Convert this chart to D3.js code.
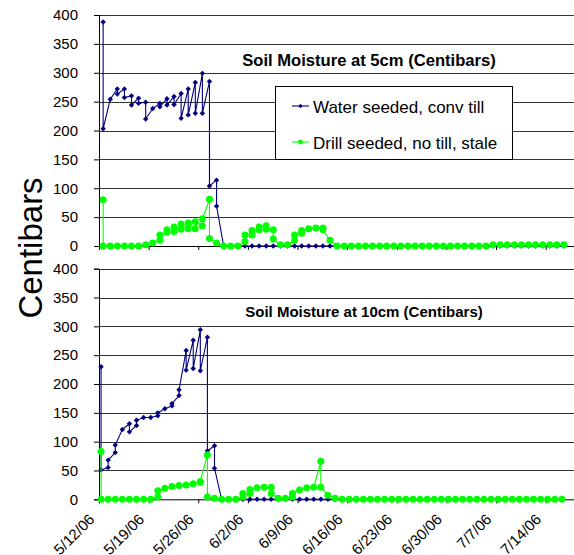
<!DOCTYPE html>
<html><head><meta charset="utf-8">
<script src="https://cdn.jsdelivr.net/npm/d3@7"></script>
<style>body{margin:0;background:#fff}svg{display:block}</style>
</head><body>
<svg id="c" width="574" height="555"></svg>
<script>
// ---------------- data ----------------
const startDay = "2006-05-12";
const endDay = "2006-07-18";
const tickLabels = ["5/12/06","5/19/06","5/26/06","6/2/06","6/9/06","6/16/06","6/23/06","6/30/06","7/7/06","7/14/06"];
const yTicks = [0,50,100,150,200,250,300,350,400];
const seriesNames = ["Water seeded, conv till","Drill seeded, no till, stale"];
const panelTitles = ["Soil Moisture at 5cm (Centibars)","Soil Moisture at 10cm (Centibars)"];
const yLabel = "Centibars";
// reading hour of day for each panel
const readingHour = [14, 7];

// one entry per day from 5/12/06; an array = several readings that day
const water5 = [[388,203],254,[272,263],[272,257],[260,244],[256,247],[249,220],238,[247,241],[255,244],
  [259,245],[264,221],[272,227],[283,230],[299,230],[285,104],[114,69],0,0,0,
  0,0,0,0,0,0,0,0,0,0, 0,0,0,0,0,0,0,0,0,0, 0,0,0,0,0,0,0,0,0,0, 0,0,0,0,0,0,0,0,0,0, 0,0,0,0,0,0];
const drill5 = [[80,0],0,0,0,0,0,2,5,[10,19],[24,28],
  [25,33],[29,38],[30,40],[30,42],[35,47],[81,13],5,0,0,0,
  [8,19],[19,27],[28,33],[35,29],[28,12],2,2,[10,19],[22,27],30,
  31,[31,28],10,0,0,0,0,0,0,0, 0,0,0,0,0,0,0,0,0,0, 0,0,0,0,0,2,2,2,2,2, 2,2,2,2,2,2];
const water10 = [[230,51],[55,68],[81,94],121,[131,117],[128,137],142,142,[145,150],157,
  [162,166],[180,190],[258,224],[276,227],[294,223],[281,84],[93,54],0,0,0,
  0,0,0,0,0,0,0,0,0,0, 0,0,0,0,0,0,0,0,0,0, 0,0,0,0,0,0,0,0,0,0, 0,0,0,0,0,0,0,0,0,0, 0,0,0,0,0,0];
const drill10 = [[83,0],0,0,0,0,0,0,0,[4,15],19,
  22,24,25,27,[29,31],[77,4],2,0,0,0,
  [4,10],[10,17],20,21,[21,10],2,2,[4,10],16,20,
  21,[66,21],7,2,0,0,0,0,0,0, 0,0,0,0,0,0,0,0,0,0, 0,0,0,0,0,0,0,0,0,0, 0,0,0,0,0,0];

// ---------------- drawing ----------------
const svg = d3.select("#c");
const FONT = "'Liberation Sans', Arial, Helvetica, sans-serif";
const parse = d3.timeParse("%Y-%m-%d");
const parseTick = d3.timeParse("%m/%d/%y");
const x = d3.scaleTime().domain([parse(startDay), parse(endDay)]).range([99, 574]);
const colors = ["#000080", "#00ff00"];

function flatten(arr, hour) {
  const out = [];
  arr.forEach((e, i) => {
    const day = d3.timeDay.offset(parse(startDay), i);
    const t = d3.timeHour.offset(day, hour);
    [].concat(e).forEach(v => out.push({t, v}));
  });
  return out;
}

const panels = [
  {series: [water5, drill5], top: 15, bottom: 246, title: panelTitles[0], titleY: 66, titleSize: 16.6, titleX: 369, labels: false, legend: true},
  {series: [water10, drill10], top: 268.7, bottom: 499.3, title: panelTitles[1], titleY: 317, titleSize: 15, titleX: 364, labels: true, legend: false}
];

const diamond = r => `M0,${-r}L${r},0L0,${r}L${-r},0Z`;

panels.forEach((p, pi) => {
  const y = d3.scaleLinear().domain([0, 400]).range([p.bottom, p.top]);
  const g = svg.append("g");
  // gridlines
  g.selectAll("line.grid").data(yTicks.filter(v => v > 0)).join("line")
    .attr("x1", x.range()[0]).attr("x2", 574)
    .attr("y1", d => Math.round(y(d)) + 0.5).attr("y2", d => Math.round(y(d)) + 0.5)
    .attr("stroke", "#333").attr("stroke-width", 1);
  // y axis
  const ya = g.append("g").attr("transform", `translate(${x.range()[0]},0)`)
    .call(d3.axisLeft(y).tickValues(yTicks).tickSize(5).tickPadding(16));
  ya.select(".domain").attr("stroke", "#000");
  ya.selectAll(".tick line").attr("stroke", "#000");
  ya.selectAll("text").attr("font-family", FONT).attr("font-size", 15).attr("fill", "#000");
  // x axis
  const xa = g.append("g").attr("transform", `translate(0,${p.bottom})`)
    .call(d3.axisBottom(x).tickValues(tickLabels.map(parseTick)).tickSize(4)
      .tickFormat(p.labels ? d3.timeFormat("%-m/%-d/%y") : ""));
  xa.select(".domain").attr("stroke", "#000");
  xa.selectAll(".tick line").attr("stroke", "#000");
  if (p.labels) {
    xa.selectAll("text").attr("font-family", FONT).attr("font-size", 15).attr("fill", "#000")
      .attr("text-anchor", "end").attr("dy", 0)
      .attr("transform", "translate(-4,21) rotate(-45)").attr("y", 0).attr("x", 0);
  }
  // series
  p.series.forEach((s, si) => {
    const pts = flatten(s, readingHour[pi]);
    const line = d3.line().x(d => x(d.t)).y(d => y(d.v));
    g.append("path").datum(pts).attr("d", line).attr("fill", "none")
      .attr("stroke", colors[si]).attr("stroke-width", 1.1);
    const m = g.append("g").selectAll("path").data(pts).join("path")
      .attr("transform", d => `translate(${x(d.t)},${y(d.v)})`)
      .attr("fill", colors[si]);
    if (si === 0) m.attr("d", diamond(2.7));
    else m.attr("d", d3.symbol(d3.symbolCircle, Math.PI * 3.5 * 3.5)());
  });
  // title
  g.append("text").attr("x", p.titleX).attr("y", p.titleY).attr("text-anchor", "middle")
    .attr("font-family", FONT).attr("font-weight", "bold").attr("font-size", p.titleSize)
    .text(p.title);
  // legend
  if (p.legend) {
    const lg = g.append("g");
    lg.append("rect").attr("x", 275.5).attr("y", 86.5).attr("width", 237).attr("height", 73)
      .attr("fill", "#fff").attr("stroke", "#000").attr("stroke-width", 1);
    seriesNames.forEach((n, i) => {
      const ly = 106 + i * 36;
      lg.append("line").attr("x1", 292).attr("x2", 309).attr("y1", ly).attr("y2", ly)
        .attr("stroke", colors[i]).attr("stroke-width", 1.1);
      const mk = lg.append("path").attr("transform", `translate(300.5,${ly})`).attr("fill", colors[i]);
      if (i === 0) mk.attr("d", diamond(2.2)); else mk.attr("d", d3.symbol(d3.symbolCircle, Math.PI * 2.4 * 2.4)());
      lg.append("text").attr("x", 313).attr("y", ly + 6.5).attr("font-family", FONT)
        .attr("font-size", 17).text(n);
    });
  }
});

// y label
svg.append("text").attr("transform", "translate(41.5,248) rotate(-90)").attr("text-anchor", "middle")
  .attr("font-family", FONT).attr("font-size", 33).text(yLabel);
</script>
</body></html>
